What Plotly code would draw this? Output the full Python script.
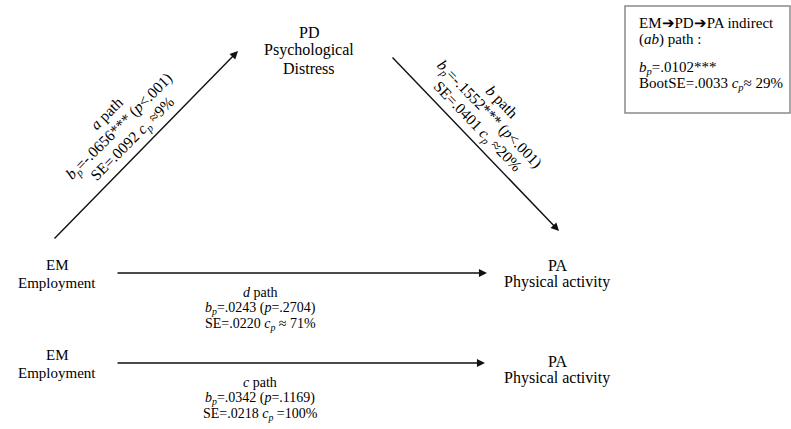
import plotly.graph_objects as go

# ---------------- data ----------------
node_codes = ["EM", "PD", "PA"]
node_names = ["Employment", "Psychological Distress", "Physical activity"]

path_names = ["a", "b", "d", "c"]
path_b = ["-.0656", "-.1552", ".0243", ".0342"]
path_sig = ["***", "***", "", ""]
path_p = ["&lt;.001", "&lt;.001", "=.2704", "=.1169"]
path_se = [".0092", ".0401", ".0220", ".0218"]
path_cp = ["≈9%", "≈20%", "≈ 71%", "=100%"]

indirect_b = ".0102"
indirect_sig = "***"
indirect_se = ".0033"
indirect_cp = "≈ 29%"

# ---------------- layout helpers ----------------
W, H = 791, 429
FONT = "Liberation Serif"
BLACK = "#000000"

fig = go.Figure()
ann = []


def txt(x, y, s, size=15, angle=0, xanchor="center"):
    ann.append(dict(x=x, y=y, xref="x", yref="y", text=s, showarrow=False,
                    textangle=angle, xanchor=xanchor, yanchor="middle",
                    font=dict(family=FONT, size=size, color=BLACK)))


def arrow(x0, y0, x1, y1):
    ann.append(dict(x=x1, y=y1, ax=x0, ay=y0, xref="x", yref="y",
                    axref="x", ayref="y", text=" ", showarrow=True,
                    arrowhead=2, arrowsize=1.15, arrowwidth=1.4,
                    arrowcolor="#111111", standoff=0, startstandoff=0,
                    font=dict(size=1)))


bp = "<i>b</i><sub><i>p</i></sub>"
cp = "<i>c</i><sub><i>p</i></sub>"


def path_lines(i):
    return [
        f"<i>{path_names[i]}</i> path",
        f"{bp}={path_b[i]}{path_sig[i]} (<i>p</i>{path_p[i]})",
        f"SE={path_se[i]} {cp} {path_cp[i]}",
    ]


# nodes
pd_words = node_names[1].split(" ")
txt(309, 32, node_codes[1], size=16)
txt(309, 50, pd_words[0], size=16)
txt(309, 68, pd_words[1], size=16)

for yc in (265, 355):
    txt(57, yc, node_codes[0])
    txt(57, yc + 18, node_names[0])
for yc in (265, 361):
    txt(557, yc, node_codes[2], size=16)
    txt(557, yc + 17, node_names[2], size=16)

# arrows
arrow(53, 240, 238, 51)     # a path
arrow(391, 56, 559, 231)    # b path
arrow(116, 273, 487, 273)   # d path
arrow(116, 363, 485, 363)   # c path

# rotated path labels (a, b)
a_pos = [(106, 113), (119.5, 126.5), (132, 139)]
for (x, y), s in zip(a_pos, path_lines(0)):
    txt(x, y, s, size=15.5, angle=-45)
b_pos = [(502, 101.5), (489.5, 114), (477, 126.5)]
for (x, y), s in zip(b_pos, path_lines(1)):
    txt(x, y, s, size=15.5, angle=46)

# horizontal path labels (d, c)
for yy, s in zip((292, 308, 324), path_lines(2)):
    txt(260, yy, s, size=14)
for yy, s in zip((382, 398, 414), path_lines(3)):
    txt(260, yy, s, size=14)

# indirect-effect box
box_lines = [
    (23, f"{node_codes[0]}➔{node_codes[1]}➔{node_codes[2]} indirect"),
    (39, "(<i>ab</i>) path :"),
    (68, f"{bp}={indirect_b}{indirect_sig}"),
    (84, f"BootSE={indirect_se} {cp}{indirect_cp}"),
]
for yy, s in box_lines:
    txt(637, yy, s, size=15, xanchor="left")

fig.add_shape(type="rect", x0=625, y0=6, x1=790, y1=113, xref="x", yref="y",
              line=dict(color="#8a8a8a", width=1.5), fillcolor="rgba(0,0,0,0)")

fig.update_layout(
    width=W, height=H,
    margin=dict(l=0, r=0, t=0, b=0),
    paper_bgcolor="white", plot_bgcolor="white",
    xaxis=dict(range=[0, W], visible=False, fixedrange=True),
    yaxis=dict(range=[H, 0], visible=False, fixedrange=True),
    annotations=ann,
    showlegend=False,
)

fig.write_html("out.html", config={"displayModeBar": False},
               post_script="document.body.style.margin='0';document.body.style.overflow='hidden';")
